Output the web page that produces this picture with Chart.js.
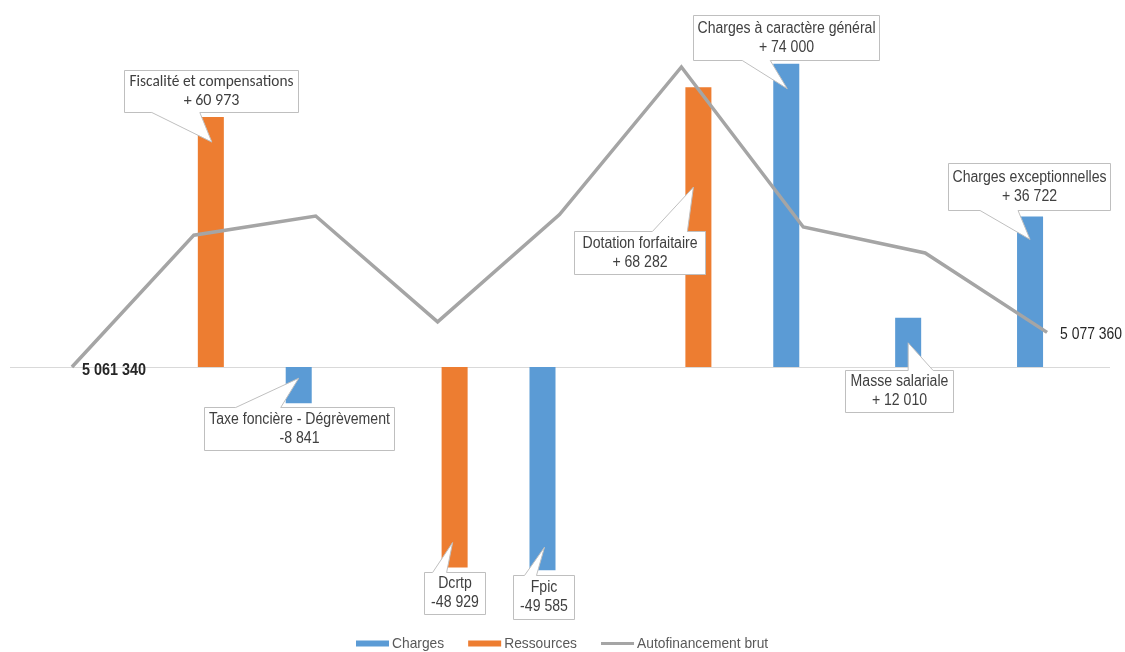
<!DOCTYPE html>
<html>
<head>
<meta charset="utf-8">
<script src="https://cdn.jsdelivr.net/npm/chart.js@4.4.0/dist/chart.umd.min.js"></script>
<style>
  html, body { margin: 0; padding: 0; background: #fff; }
  #wrap { width: 1125px; height: 652px; position: relative; }
</style>
</head>
<body>
<div id="wrap"><canvas id="graf"></canvas></div>
<script>
// Données
const categories = ['Autofinancement brut initial', 'Fiscalité et compensations', 'Taxe foncière - Dégrèvement', 'Dcrtp', 'Fpic', 'Dotation forfaitaire', 'Charges à caractère général', 'Masse salariale', 'Charges exceptionnelles'];
const charges = [null, null, -8841, null, -49585, null, 74000, 12010, 36722];
const ressources = [null, 60973, null, -48929, null, 68282, null, null, null];
const autofinancement = [5061340, 5122313, 5131154, 5082225, 5131810, 5200092, 5126092, 5114082, 5077360];

const ARIAL = '"Liberation Sans", Arial, sans-serif';
const CALIBRI = 'Carlito, Calibri, Lato, "Liberation Sans", sans-serif';

// calage des axes (pixels)
const AREA_TOP = 10, AREA_BOTTOM = 611, ZERO_PX = 367;
const BAR_PER_PX = 244, LINE_PER_PX = 462.5;

// position des bulles, relative au bout de la barre
const calloutLayout = [
  { ds: 1, index: 1, box: [-87, -47, 174, 42], side: 'bottom', base: [-59, -11], tip: [1, 25], font: CALIBRI, squeeze: 0 },
  { ds: 0, index: 2, box: [-95, 4, 190, 43], side: 'top', base: [-63, -18], tip: [0, -25], font: ARIAL, squeeze: 0.88 },
  { ds: 1, index: 3, box: [-31, 4, 61, 42], side: 'top', base: [-22, -8], tip: [-2, -25], font: ARIAL, squeeze: 0.88 },
  { ds: 0, index: 4, box: [-29, 5, 61, 44], side: 'top', base: [-18, -6], tip: [2, -23], font: ARIAL, squeeze: 0.88 },
  { ds: 1, index: 5, box: [-124, 144, 131, 43], side: 'top', base: [-46, -11], tip: [-5, 100], font: ARIAL, squeeze: 0.88 },
  { ds: 0, index: 6, box: [-93, -49, 186, 45], side: 'bottom', base: [-44, -16], tip: [1, 25], font: ARIAL, squeeze: 0.88 },
  { ds: 0, index: 7, box: [-63, 52, 108, 42], side: 'top', base: [0, 25], tip: [0, 25], font: ARIAL, squeeze: 0.88 },
  { ds: 0, index: 8, box: [-82, -54, 162, 47], side: 'bottom', base: [-50, -12], tip: [0, 23], font: ARIAL, squeeze: 0.88 }
];

function sep(v) {
  return Math.abs(v).toString().replace(/\B(?=(\d{3})+(?!\d))/g, ' ');
}
function fmt(v) {
  return v < 0 ? '-' + sep(v) : '+ ' + sep(v);
}
// texte un peu resserré, comme dans l'original
function narrowText(ctx, text, x, y, squeeze, maxW) {
  let w = ctx.measureText(text).width * squeeze;
  if (maxW && w > maxW) w = maxW;
  ctx.fillText(text, x, y, w);
}

const calloutPlugin = {
  id: 'callouts',
  beforeDatasetsDraw(chart) {
    const { ctx, chartArea, scales } = chart;
    const y0 = Math.round(scales.y.getPixelForValue(0)) + 0.5;
    ctx.save();
    ctx.strokeStyle = '#D9D9D9';
    ctx.lineWidth = 1;
    ctx.beginPath();
    ctx.moveTo(chartArea.left - 1, y0);
    ctx.lineTo(chartArea.right + 2, y0);
    ctx.stroke();
    ctx.restore();
  },
  afterDatasetsDraw(chart) {
    const ctx = chart.ctx;
    ctx.save();

    // valeurs de début et de fin de l'autofinancement
    const pts = chart.getDatasetMeta(2).data;
    const first = pts[0], last = pts[pts.length - 1];
    ctx.textBaseline = 'middle';
    ctx.textAlign = 'left';
    ctx.fillStyle = '#262626';
    ctx.font = 'bold 16px ' + ARIAL;
    narrowText(ctx, sep(autofinancement[0]), first.x + 10, first.y + 4, 0.9);
    ctx.font = '16px ' + ARIAL;
    narrowText(ctx, sep(autofinancement[autofinancement.length - 1]), last.x + 13, last.y + 2, 0.87);

    calloutLayout.forEach(c => {
      const bar = chart.getDatasetMeta(c.ds).data[c.index];
      const value = (c.ds === 0 ? charges : ressources)[c.index];
      const ax = bar.x, ay = bar.y;
      const x0 = Math.round(ax + c.box[0]) + 0.5, y0 = Math.round(ay + c.box[1]) + 0.5;
      const x1 = x0 + c.box[2], y1 = y0 + c.box[3];
      const tx = ax + c.tip[0], ty = ay + c.tip[1];
      const bl = ax + c.base[0], br = ax + c.base[1];

      ctx.beginPath();
      if (c.side === 'bottom') {
        ctx.moveTo(x0, y0); ctx.lineTo(x1, y0); ctx.lineTo(x1, y1);
        ctx.lineTo(br, y1); ctx.lineTo(tx, ty); ctx.lineTo(bl, y1); ctx.lineTo(x0, y1);
      } else {
        ctx.moveTo(x0, y1); ctx.lineTo(x0, y0); ctx.lineTo(bl, y0);
        ctx.lineTo(tx, ty); ctx.lineTo(br, y0); ctx.lineTo(x1, y0); ctx.lineTo(x1, y1);
      }
      ctx.closePath();
      ctx.fillStyle = '#FFFFFF';
      ctx.fill();
      ctx.strokeStyle = '#BFBFBF';
      ctx.lineWidth = 1;
      ctx.stroke();

      const cx = (x0 + x1) / 2, cy = (y0 + y1) / 2;
      ctx.fillStyle = '#404040';
      ctx.textAlign = 'center';
      ctx.font = '16px ' + c.font;
      if (c.squeeze) {
        narrowText(ctx, categories[c.index], cx, cy - 9.5, c.squeeze, c.box[2] - 8);
        narrowText(ctx, fmt(value), cx, cy + 9.5, c.squeeze, c.box[2] - 8);
      } else {
        ctx.fillText(categories[c.index], cx, cy - 9.5, c.box[2] - 10);
        ctx.fillText(fmt(value), cx, cy + 9.5, c.box[2] - 10);
      }
    });
    ctx.restore();
  },
  afterDraw(chart) {
    // légende en bas
    const ctx = chart.ctx;
    const ds = chart.data.datasets;
    const BOX_W = 33, GAP = 3, SPACING = 24, LEG_Y = 643.5, SQ = 0.92;
    ctx.save();
    ctx.font = '15px ' + ARIAL;
    ctx.textBaseline = 'middle';
    ctx.textAlign = 'left';
    const widths = ds.map(d => ctx.measureText(d.label).width * SQ);
    const total = widths.reduce((s, w) => s + BOX_W + GAP + w, 0) + SPACING * (ds.length - 1);
    let x = Math.round(chart.width / 2 - total / 2);
    ds.forEach((d, i) => {
      if (d.type === 'line') {
        ctx.strokeStyle = d.borderColor;
        ctx.lineWidth = 3;
        ctx.beginPath();
        ctx.moveTo(x, LEG_Y);
        ctx.lineTo(x + BOX_W, LEG_Y);
        ctx.stroke();
      } else {
        ctx.fillStyle = d.backgroundColor;
        ctx.fillRect(x, LEG_Y - 3, BOX_W, 6);
      }
      ctx.fillStyle = '#595959';
      ctx.fillText(d.label, x + BOX_W + GAP, LEG_Y, widths[i]);
      x += BOX_W + GAP + widths[i] + SPACING;
    });
    ctx.restore();
  }
};

const ctx = document.getElementById('graf').getContext('2d');

new Chart(ctx, {
  data: {
    labels: categories,
    datasets: [
      {
        type: 'bar',
        label: 'Charges',
        data: charges,
        backgroundColor: '#5B9BD5',
        borderWidth: 0,
        order: 1,
        yAxisID: 'y'
      },
      {
        type: 'bar',
        label: 'Ressources',
        data: ressources,
        backgroundColor: '#ED7D31',
        borderWidth: 0,
        order: 1,
        yAxisID: 'y'
      },
      {
        type: 'line',
        label: 'Autofinancement brut',
        data: autofinancement,
        borderColor: '#A5A5A5',
        backgroundColor: '#A5A5A5',
        borderWidth: 3.5,
        pointRadius: 0,
        tension: 0,
        order: 0,
        yAxisID: 'y2'
      }
    ]
  },
  options: {
    responsive: true,
    maintainAspectRatio: false,
    animation: false,
    categoryPercentage: 0.558,
    barPercentage: 0.765,
    layout: { padding: { left: 11, right: 17, top: AREA_TOP, bottom: 652 - AREA_BOTTOM } },
    scales: {
      x: { display: false },
      y: {
        display: false,
        min: -(AREA_BOTTOM - ZERO_PX) * BAR_PER_PX,
        max: (ZERO_PX - AREA_TOP) * BAR_PER_PX
      },
      y2: {
        display: false,
        min: autofinancement[0] - (AREA_BOTTOM - ZERO_PX) * LINE_PER_PX,
        max: autofinancement[0] + (ZERO_PX - AREA_TOP) * LINE_PER_PX
      }
    },
    plugins: {
      tooltip: { enabled: false },
      legend: { display: false }
    }
  },
  plugins: [calloutPlugin]
});
</script>
</body>
</html>
